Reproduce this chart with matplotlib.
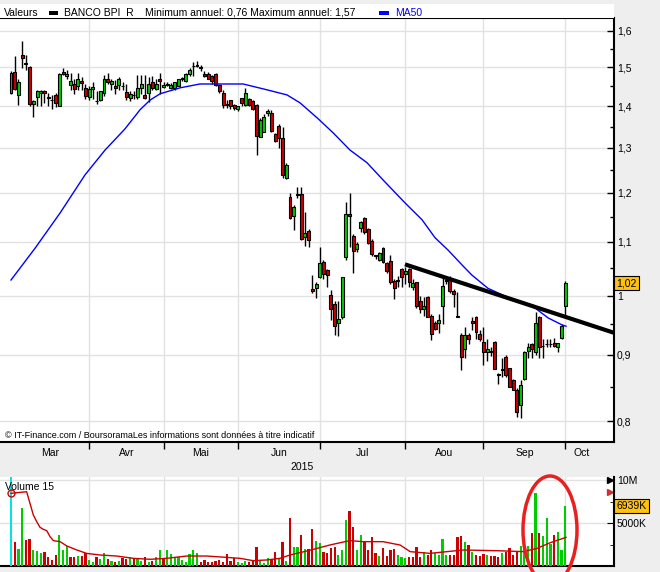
import matplotlib
matplotlib.use("Agg")
import matplotlib.pyplot as plt
from matplotlib.patches import Rectangle, Ellipse
from matplotlib.ticker import FixedLocator, FixedFormatter, NullFormatter
import matplotlib.transforms as mtransforms

plt.rcParams['font.family'] = ['Liberation Sans', 'DejaVu Sans']

# daily candles, BANCO BPI, 3 Mar 2015 -> 1 Oct 2015 (trading days)
opens = [1.432, 1.487, 1.427, 1.533, 1.512, 1.500, 1.405, 1.422, 1.432, 1.439,
         1.423, 1.416, 1.427, 1.401, 1.487, 1.477, 1.453, 1.455, 1.451, 1.464,
         1.446, 1.422, 1.442, 1.413, 1.414, 1.432, 1.470, 1.457, 1.451, 1.453,
         1.452, 1.435, 1.420, 1.429, 1.422, 1.446, 1.428, 1.432, 1.462, 1.444,
         1.468, 1.448, 1.456, 1.446, 1.446, 1.452, 1.468, 1.463, 1.481, 1.502,
         1.504, 1.501, 1.483, 1.483, 1.477, 1.483, 1.454, 1.434, 1.404, 1.415,
         1.403, 1.392, 1.419, 1.403, 1.417, 1.413, 1.403, 1.326, 1.338, 1.382,
         1.384, 1.332, 1.352, 1.322, 1.232, 1.192, 1.152, 1.196, 1.198, 1.110,
         1.122, 1.011, 1.013, 1.033, 1.061, 1.046, 1.001, 0.985, 0.953, 0.963,
         1.071, 1.155, 1.112, 1.086, 1.127, 1.147, 1.125, 1.101, 1.074, 1.066,
         1.088, 1.060, 1.063, 1.026, 1.028, 1.048, 1.039, 1.048, 1.015, 1.024,
         0.991, 0.977, 0.997, 0.964, 0.952, 0.952, 0.981, 1.028, 1.029, 1.009,
         0.965, 0.932, 0.910, 0.932, 0.956, 0.962, 0.934, 0.921, 0.904, 0.906,
         0.921, 0.870, 0.876, 0.897, 0.879, 0.860, 0.846, 0.823, 0.862, 0.906,
         0.917, 0.904, 0.963, 0.915, 0.917, 0.918, 0.920, 0.913, 0.928, 0.982]
highs = [1.490, 1.530, 1.470, 1.572, 1.533, 1.502, 1.415, 1.440, 1.440, 1.440,
         1.432, 1.428, 1.432, 1.484, 1.497, 1.493, 1.485, 1.468, 1.485, 1.475,
         1.455, 1.452, 1.460, 1.439, 1.439, 1.480, 1.484, 1.468, 1.466, 1.474,
         1.460, 1.455, 1.438, 1.438, 1.480, 1.480, 1.480, 1.475, 1.478, 1.470,
         1.485, 1.460, 1.462, 1.458, 1.462, 1.470, 1.475, 1.485, 1.497, 1.513,
         1.517, 1.506, 1.490, 1.487, 1.480, 1.485, 1.456, 1.440, 1.415, 1.415,
         1.404, 1.400, 1.420, 1.446, 1.420, 1.415, 1.405, 1.370, 1.380, 1.392,
         1.390, 1.335, 1.355, 1.350, 1.265, 1.200, 1.175, 1.212, 1.212, 1.160,
         1.125, 1.037, 1.025, 1.090, 1.065, 1.048, 1.010, 0.990, 0.990, 1.033,
         1.180, 1.200, 1.115, 1.100, 1.142, 1.150, 1.128, 1.105, 1.075, 1.080,
         1.090, 1.062, 1.075, 1.030, 1.035, 1.050, 1.052, 1.050, 1.030, 1.025,
         1.000, 0.998, 1.000, 0.967, 0.955, 0.968, 1.032, 1.035, 1.035, 1.012,
         1.007, 0.935, 0.945, 0.935, 0.962, 0.965, 0.940, 0.946, 0.925, 0.912,
         0.923, 0.872, 0.895, 0.900, 0.880, 0.862, 0.848, 0.860, 0.906, 0.920,
         0.920, 0.972, 0.965, 0.925, 0.925, 0.925, 0.928, 0.920, 0.950, 1.027]
lows = [1.430, 1.440, 1.403, 1.497, 1.493, 1.400, 1.373, 1.400, 1.400, 1.408,
        1.400, 1.393, 1.398, 1.399, 1.480, 1.470, 1.440, 1.430, 1.440, 1.440,
        1.417, 1.415, 1.418, 1.405, 1.412, 1.425, 1.455, 1.440, 1.430, 1.440,
        1.440, 1.415, 1.412, 1.418, 1.418, 1.430, 1.418, 1.410, 1.440, 1.440,
        1.430, 1.445, 1.450, 1.442, 1.440, 1.450, 1.465, 1.460, 1.478, 1.476,
        1.500, 1.490, 1.475, 1.468, 1.455, 1.452, 1.432, 1.395, 1.395, 1.392,
        1.390, 1.388, 1.400, 1.400, 1.400, 1.390, 1.284, 1.325, 1.336, 1.375,
        1.338, 1.314, 1.300, 1.233, 1.230, 1.145, 1.124, 1.190, 1.103, 1.092,
        1.090, 1.005, 0.995, 1.031, 1.030, 1.015, 0.957, 0.932, 0.930, 0.960,
        1.065, 1.090, 1.041, 1.080, 1.120, 1.115, 1.095, 1.072, 1.068, 1.063,
        1.060, 1.040, 1.020, 0.994, 1.015, 1.015, 1.020, 1.015, 1.010, 0.978,
        0.970, 0.965, 0.962, 0.924, 0.940, 0.935, 0.950, 1.020, 1.005, 0.980,
        0.962, 0.876, 0.895, 0.918, 0.940, 0.925, 0.922, 0.884, 0.890, 0.898,
        0.877, 0.855, 0.865, 0.866, 0.850, 0.845, 0.806, 0.804, 0.860, 0.895,
        0.895, 0.900, 0.895, 0.895, 0.912, 0.912, 0.912, 0.905, 0.925, 0.963]
closes = [1.484, 1.443, 1.461, 1.525, 1.508, 1.405, 1.412, 1.439, 1.439, 1.432,
          1.421, 1.414, 1.407, 1.482, 1.482, 1.482, 1.464, 1.443, 1.470, 1.459,
          1.425, 1.442, 1.448, 1.412, 1.439, 1.468, 1.461, 1.464, 1.446, 1.470,
          1.450, 1.422, 1.430, 1.427, 1.446, 1.455, 1.420, 1.456, 1.446, 1.456,
          1.464, 1.454, 1.454, 1.454, 1.460, 1.468, 1.472, 1.483, 1.493, 1.504,
          1.506, 1.499, 1.477, 1.470, 1.463, 1.454, 1.437, 1.403, 1.402, 1.401,
          1.396, 1.399, 1.407, 1.434, 1.403, 1.392, 1.328, 1.366, 1.374, 1.388,
          1.340, 1.316, 1.322, 1.239, 1.261, 1.147, 1.171, 1.198, 1.105, 1.118,
          1.104, 1.009, 1.021, 1.059, 1.039, 1.038, 0.976, 0.947, 0.960, 1.033,
          1.156, 1.152, 1.082, 1.095, 1.139, 1.120, 1.097, 1.076, 1.072, 1.078,
          1.062, 1.045, 1.025, 1.013, 1.027, 1.033, 1.044, 1.025, 1.022, 0.981,
          0.976, 0.981, 0.963, 0.934, 0.942, 0.958, 1.017, 1.027, 1.009, 1.003,
          0.963, 0.897, 0.932, 0.926, 0.952, 0.938, 0.926, 0.904, 0.910, 0.905,
          0.877, 0.869, 0.877, 0.868, 0.850, 0.846, 0.813, 0.853, 0.904, 0.913,
          0.910, 0.953, 0.912, 0.914, 0.917, 0.918, 0.914, 0.919, 0.947, 1.022]

# daily volume, millions
volumes = [10.3, 2.83, 1.98, 6.78, 3.02, 3.14, 1.86, 1.74, 1.47, 1.67,
           1.0, 0.7, 1.28, 3.6, 1.86, 2.33, 1.0, 1.0, 1.16, 1.16,
           1.47, 0.7, 0.5, 1.0, 0.78, 1.47, 0.78, 0.62, 0.5, 0.62,
           0.89, 0.78, 1.0, 0.78, 0.89, 0.62, 1.0, 0.5, 0.62, 1.0,
           1.86, 0.78, 1.86, 1.4, 1.0, 1.0, 0.7, 0.5, 1.4, 1.86,
           1.55, 0.5, 0.7, 0.5, 0.5, 0.62, 0.7, 0.5, 1.4, 0.62,
           0.89, 0.5, 0.39, 0.62, 0.5, 0.62, 2.17, 0.62, 0.39, 0.89,
           0.78, 1.67, 0.78, 2.83, 0.62, 5.54, 2.17, 2.17, 3.6, 1.94,
           1.94, 4.26, 2.9, 2.7, 1.67, 1.47, 2.05, 2.17, 1.28, 1.86,
           5.35, 6.43, 4.57, 1.86, 3.6, 2.83, 1.86, 3.4, 1.47, 1.16,
           2.05, 1.16, 1.86, 1.94, 1.28, 1.0, 0.89, 1.0, 1.0, 2.17,
           1.0, 1.67, 1.28, 1.86, 1.47, 1.28, 3.1, 1.28, 1.28, 1.28,
           3.4, 3.5, 2.83, 2.44, 1.67, 1.28, 1.16, 1.4, 1.28, 1.16,
           1.16, 1.0, 1.47, 1.67, 2.05, 1.28, 1.67, 2.33, 2.25, 2.33,
           3.88, 8.53, 3.88, 3.5, 5.54, 2.56, 3.6, 4.0, 1.86, 6.94]

# MA50 of price (day index, value)
ma50_idx = [0, 6.5, 13.2, 19.9, 25.3, 30.6, 34.7, 37.4, 40.1, 45.4, 50.8, 62.4,
            68.8, 74.2, 77.7, 82.3, 86.6, 91.1, 95.7, 100, 105.9, 110.5, 114,
            117.5, 121.5, 123.9, 128.2, 132.8, 137.4, 140.9, 144.4, 148.2, 149.2]
ma50_val = [1.028, 1.088, 1.158, 1.239, 1.295, 1.344, 1.391, 1.415, 1.431, 1.446,
            1.456, 1.456, 1.441, 1.428, 1.408, 1.371, 1.335, 1.295, 1.266, 1.228,
            1.179, 1.144, 1.108, 1.084, 1.054, 1.037, 1.013, 0.999, 0.988, 0.978,
            0.961, 0.949, 0.947]

# MA15 of volume (day index, millions)
ma15_idx = [0, 4.2, 5.1, 6.0, 6.9, 7.8, 8.7, 9.6, 10.5, 11.4, 13.2, 15, 17.7,
            20.3, 23.9, 28.4, 32.9, 37.4, 41.8, 47.2, 52.6, 58, 61.6, 65.1, 68.7,
            72.3, 75, 77.7, 81.3, 85.8, 91, 94.7, 100, 104.6, 107.3, 112.6, 121.6,
            130.6, 137.7, 141.4, 144.9, 149.2]
ma15_val = [8.45, 8.64, 7.29, 5.93, 5.16, 4.5, 4.26, 4.11, 3.41, 2.95, 2.83, 2.33,
            1.86, 1.47, 1.28, 1.16, 0.89, 0.78, 0.89, 1.16, 1.16, 1.0, 0.89, 0.62,
            0.7, 0.89, 1.28, 1.55, 1.94, 2.45, 2.95, 2.83, 2.83, 2.44, 1.67, 1.47,
            1.86, 1.78, 1.67, 2.05, 2.7, 3.33]

# trend line drawn on the chart (day index, price)
trend_idx = [105.9, 162.1]
trend_val = [1.057, 0.936]

month_start = [21, 41, 61, 83, 106, 127, 149]
month_names = ['Mar', 'Avr', 'Mai', 'Jun', 'Jul', 'Aou', 'Sep', 'Oct']

price_ticks = [0.8, 0.9, 1.0, 1.1, 1.2, 1.3, 1.4, 1.5, 1.6]
price_labels = ['0,8', '0,9', '1', '1,1', '1,2', '1,3', '1,4', '1,5', '1,6']

GREEN = '#00cc00'
RED = '#cc0000'
GRID = '#e2e2e2'
GOLD = '#ffc20e'

W, H = 660, 572
fig = plt.figure(figsize=(W / 100, H / 100), dpi=100, facecolor='#eeeeee')

XMIN, XMAX = -2.96, 162.1
days = list(range(len(closes)))
colors = [GREEN if c >= o else RED for o, c in zip(opens, closes)]
# volume colour follows the close versus the previous close
vcolors = ['#00e5e5'] + [GREEN if closes[i] >= closes[i - 1] else RED
                         for i in range(1, len(closes))]

# ---- price panel ----
ax = fig.add_axes([0, 130 / H, 614 / W, 424 / H])
ax.set_facecolor('white')
ax.set_yscale('log')
ax.set_ylim(0.771, 1.637)
ax.set_xlim(XMIN, XMAX)

ax.vlines(days, lows, highs, color='black', lw=1, zorder=3)
bottoms = [min(o, c) for o, c in zip(opens, closes)]
heights = [abs(c - o) for o, c in zip(opens, closes)]
ax.bar(days, heights, bottom=bottoms, width=0.8, color=colors,
       edgecolor='black', lw=0.8, zorder=4)

ax.plot(ma50_idx, ma50_val, color='#0000ff', lw=1, zorder=5)
ax.plot(trend_idx, trend_val, color='black', lw=3, zorder=6, solid_capstyle='butt')

ax.yaxis.tick_right()
ax.yaxis.set_major_locator(FixedLocator(price_ticks))
ax.yaxis.set_major_formatter(FixedFormatter(price_labels))
ax.yaxis.set_minor_locator(FixedLocator([t + 0.05 for t in price_ticks[:-1]]))
ax.yaxis.set_minor_formatter(NullFormatter())
ax.tick_params(axis='y', which='major', direction='in', length=5, width=1,
               labelsize=7.5, pad=2)
ax.tick_params(axis='y', which='minor', direction='in', length=3, width=1)

ax.xaxis.set_major_locator(FixedLocator(month_start))
ax.xaxis.set_major_formatter(NullFormatter())
bounds = [0] + month_start + [158]
centers = [(a + b) / 2 for a, b in zip(bounds[:-1], bounds[1:])]
ax.xaxis.set_minor_locator(FixedLocator(centers))
ax.xaxis.set_minor_formatter(FixedFormatter(month_names))
ax.tick_params(axis='x', which='major', direction='out', length=5, width=1)
ax.tick_params(axis='x', which='minor', length=0, labelsize=7.5, pad=4)

ax.grid(True, which='major', color=GRID, lw=1, zorder=0)
ax.set_axisbelow(True)
for side in ['top', 'bottom', 'right']:
    ax.spines[side].set_color('black')
    ax.spines[side].set_linewidth(1.5)
ax.spines['left'].set_visible(False)

# last price box
tr = mtransforms.blended_transform_factory(ax.transAxes, ax.transData)
ax.text(1.004, closes[-1], '1,02', transform=tr, ha='left', va='center', fontsize=7.5,
        bbox=dict(boxstyle='square,pad=0.2', facecolor=GOLD, edgecolor='black', lw=0.8),
        zorder=10, clip_on=False)

# header band with legend
fig.patches.append(Rectangle((0, 1 - 18 / H), 614 / W, 14 / H, transform=fig.transFigure,
                             facecolor='white', edgecolor='none', zorder=0))
ty = 1 - 12.5 / H
fig.text(4 / W, ty, 'Valeurs', fontsize=7.5, va='center')
fig.patches.append(Rectangle((49 / W, 1 - 15 / H), 9 / W, 4 / H, transform=fig.transFigure,
                             facecolor='black', edgecolor='none'))
fig.text(64 / W, ty, 'BANCO BPI  R', fontsize=7.5, va='center')
fig.text(145 / W, ty, 'Minimum annuel: 0,76 Maximum annuel: 1,57', fontsize=7.5, va='center')
fig.patches.append(Rectangle((379 / W, 1 - 15 / H), 10 / W, 4 / H, transform=fig.transFigure,
                             facecolor='#0000ff', edgecolor='none'))
fig.text(395 / W, ty, 'MA50', fontsize=7.5, va='center', color='#0000ff')

fig.text(5 / W, 1 - 436 / H,
         '\u00a9 IT-Finance.com / BoursoramaLes informations sont donn\u00e9es \u00e0 titre indicatif',
         fontsize=6.5, va='center')
fig.text(302 / W, 1 - 467 / H, '2015', fontsize=7.5, ha='center', va='center')

# ---- volume panel ----
vax = fig.add_axes([0, 6 / H, 614 / W, 89 / H])
vax.set_facecolor('white')
vax.set_xlim(XMIN, XMAX)
vax.set_ylim(0, 10.35)
vax.bar(days, volumes, width=0.6, color=vcolors, lw=0, zorder=3)
vax.plot(ma15_idx, ma15_val, color=RED, lw=1, zorder=4)
vax.plot([ma15_idx[0]], [ma15_val[0]], marker='o', ms=5, mfc='none', mec=RED,
         mew=1, zorder=5, clip_on=False)

vax.yaxis.tick_right()
vax.yaxis.set_major_locator(FixedLocator([5, 10]))
vax.yaxis.set_major_formatter(FixedFormatter(['5000K', '10M']))
vax.yaxis.set_minor_locator(FixedLocator([2.5, 7.5]))
vax.tick_params(axis='y', which='major', direction='in', length=5, labelsize=7.5, pad=2)
vax.tick_params(axis='y', which='minor', direction='in', length=3)
vax.xaxis.set_major_locator(FixedLocator(month_start))
vax.tick_params(axis='x', length=0, labelbottom=False)
vax.grid(True, which='major', color=GRID, lw=1, zorder=0)
vax.set_axisbelow(True)
vax.spines['top'].set_visible(False)
vax.spines['left'].set_visible(False)
vax.spines['right'].set_linewidth(1.5)
vax.spines['bottom'].set_linewidth(1.5)

vtr = mtransforms.blended_transform_factory(vax.transAxes, vax.transData)
vax.plot([0.993], [10], marker='>', ms=4, color='black', transform=vtr, clip_on=False)
vax.plot([0.993], [8.6], marker='>', ms=4, color='#cc3333', transform=vtr, clip_on=False)
vax.text(1.004, volumes[-1], '6939K', transform=vtr, ha='left', va='center', fontsize=7.5,
         bbox=dict(boxstyle='square,pad=0.2', facecolor=GOLD, edgecolor='black', lw=0.8),
         zorder=10, clip_on=False)
fig.text(5 / W, 1 - 487 / H, 'Volume 15', fontsize=7.5, va='center')

# hand-drawn red ellipse around the last volumes
fig.add_artist(Ellipse((550 / W, 1 - 530 / H), 54 / W, 108 / H, transform=fig.transFigure,
                       fill=False, edgecolor='#e82020', lw=2.5))

fig.savefig('out.png', dpi=100, facecolor=fig.get_facecolor())
